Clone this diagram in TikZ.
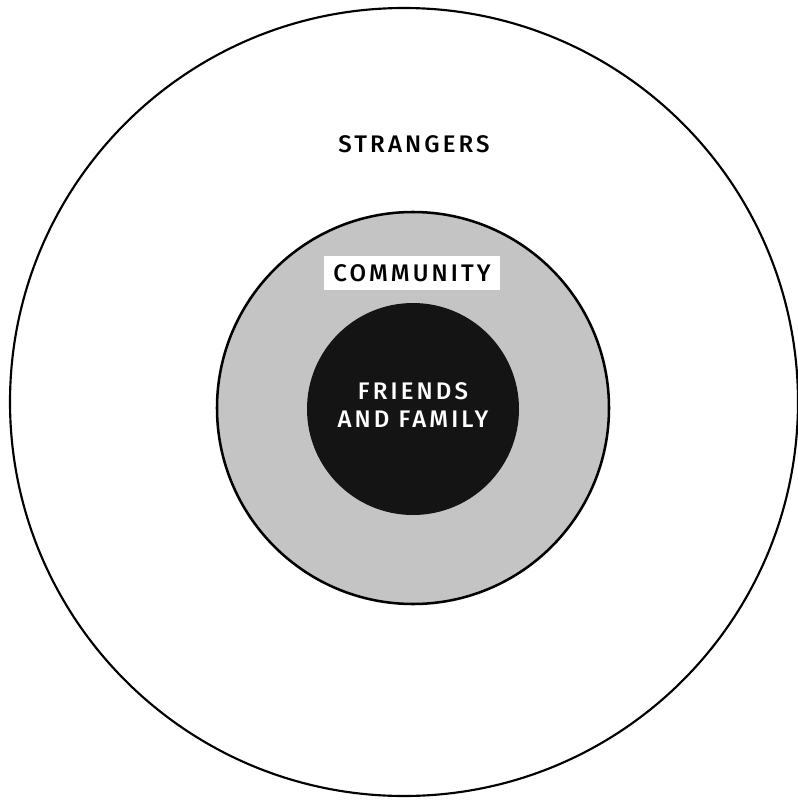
\documentclass[tikz,border=0pt]{standalone}
\usepackage{fontspec}
\setmainfont{Fira Sans}[LetterSpace=6]
\newfontfamily\labelfont{Fira Sans Medium}[LetterSpace=13]
\begin{document}
\begin{tikzpicture}[x=0.75pt,y=-0.75pt,
  ring/.style={circle,draw=black,inner sep=0pt},
  lbl/.style={font=\labelfont\fontsize{18}{20.5}\selectfont,align=center,inner sep=0pt}]
\useasboundingbox (0,0) rectangle (798,803);
\node[ring,line width=1.6pt,minimum size=591pt] (outer) at (404,402) {};
\node[ring,line width=1.9pt,fill=black!23,minimum size=294pt] (middle) at (413,408) {};
\node[circle,fill=black!92,inner sep=0pt,minimum size=159pt] (inner) at (413,409) {};
\node[lbl] (strangers) at (414,144) {STRANGERS};
\node[lbl,fill=white,inner xsep=7pt,inner ysep=6.5pt] (community) at (412,273) {COMMUNITY};
\node[lbl,text=white] (friends) at (413,405) {FRIENDS\\[1pt]AND FAMILY};
\end{tikzpicture}
\end{document}
